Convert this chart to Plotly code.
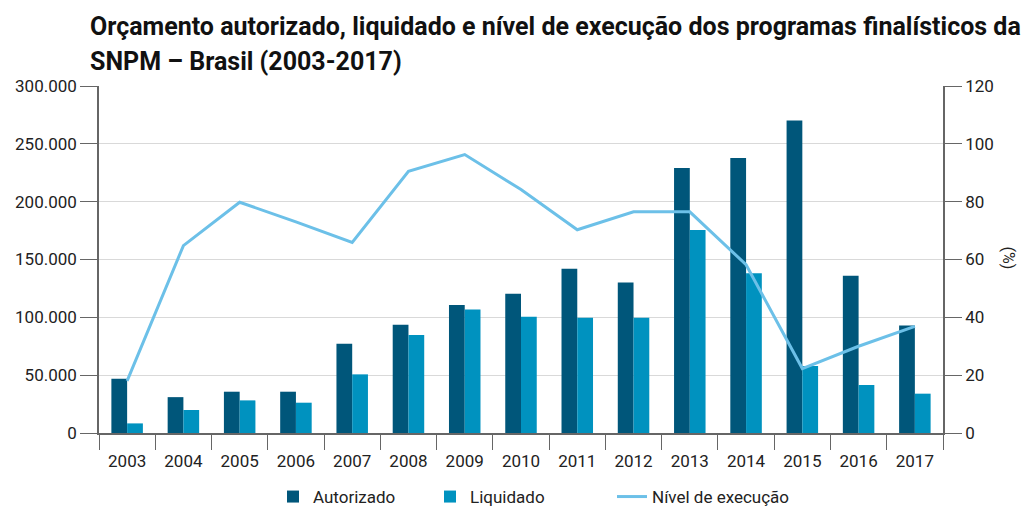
import plotly.graph_objects as go

years = ["2003", "2004", "2005", "2006", "2007", "2008", "2009", "2010",
         "2011", "2012", "2013", "2014", "2015", "2016", "2017"]
autorizado = [47000, 31000, 35700, 35700, 77200, 93600, 110600, 120400,
              142000, 130100, 229200, 237800, 270100, 135900, 93000]
liquidado = [8300, 19900, 28200, 26200, 50700, 84700, 106800, 100500,
             99600, 99600, 175600, 138200, 58000, 41500, 34000]
execucao = [18, 64.8, 79.8, 73, 65.9, 90.5, 96.3, 84.2,
            70.3, 76.5, 76.5, 58.2, 22.3, 30, 36.9]
title_lines = [
    "Orçamento autorizado, liquidado e nível de execução dos programas finalísticos da",
    "SNPM – Brasil (2003-2017)",
]

FONT = "Roboto, sans-serif"
DARK = "#00567A"
MID = "#0092BF"
LIGHT = "#6CC0E8"
AX = "#666666"

W, H = 1029, 510
L, R, T, B = 99, 86, 86, 77
PW, PH = W - L - R, H - T - B


def px_x(x):
    return (x - L) / PW


def px_y(y):
    return (H - B - y) / PH


fig = go.Figure()
fig.add_trace(go.Bar(x=years, y=autorizado, name="Autorizado", legend="legend",
                     showlegend=True,
                     marker=dict(color=DARK, line=dict(width=0))))
fig.add_trace(go.Bar(x=years, y=liquidado, name="Liquidado", legend="legend2",
                     showlegend=True,
                     marker=dict(color=MID, line=dict(width=0))))
fig.add_trace(go.Scatter(x=years, y=execucao, name="Nível de execução",
                         mode="lines", yaxis="y2", legend="legend3",
                         showlegend=True,
                         line=dict(color=LIGHT, width=3)))

annotations = [
    dict(text="<b>" + title_lines[0] + "</b>", xref="paper", yref="paper",
         x=px_x(88), y=px_y(27), xanchor="left", yanchor="middle",
         showarrow=False, font=dict(family=FONT, size=25, color="#111111")),
    dict(text="<b>" + title_lines[1] + "</b>", xref="paper", yref="paper",
         x=px_x(88), y=px_y(62), xanchor="left", yanchor="middle",
         showarrow=False, font=dict(family=FONT, size=25, color="#111111")),
    dict(text="(%)", textangle=90, xref="paper", yref="paper",
         x=px_x(1020), y=px_y(258), showarrow=False,
         font=dict(family=FONT, size=16, color="#222222")),
]


def leg(xpx):
    return dict(orientation="h", x=px_x(xpx), xanchor="left",
                y=px_y(497), yanchor="middle", visible=True,
                font=dict(size=17), bgcolor="rgba(0,0,0,0)")


fig.update_layout(
    width=W, height=H,
    showlegend=True,
    margin=dict(l=L, r=R, t=T, b=B, autoexpand=False),
    paper_bgcolor="white", plot_bgcolor="white",
    separators=",.",
    barmode="group", bargap=0.44, bargroupgap=0,
    font=dict(family=FONT, size=16, color="#222222"),
    xaxis=dict(
        type="category", tickson="boundaries", ticks="outside", ticklen=15,
        tickcolor=AX, showline=True, linecolor=AX, linewidth=1.5,
        showgrid=False, tickfont=dict(size=17), zeroline=False,
        ticklabelstandoff=12,
    ),
    yaxis=dict(
        range=[0, 300000], dtick=50000, tickformat=",d",
        ticks="outside", ticklen=17, tickcolor=AX,
        showline=True, linecolor=AX, linewidth=1.5,
        showgrid=True, gridcolor="#d9d9d9", gridwidth=1,
        zeroline=False, tickfont=dict(size=17),
    ),
    yaxis2=dict(
        range=[0, 120], dtick=20, overlaying="y", side="right",
        ticks="outside", ticklen=17, tickcolor=AX,
        showline=True, linecolor=AX, linewidth=1.5,
        showgrid=False, zeroline=False, tickfont=dict(size=17),
    ),
    legend=leg(273),
    legend2=leg(430),
    legend3=leg(612),
    annotations=annotations,
)

fig.write_html(
    "out.html",
    config={"displayModeBar": False},
    post_script="document.body.style.margin='0';document.body.style.overflow='hidden';",
)
